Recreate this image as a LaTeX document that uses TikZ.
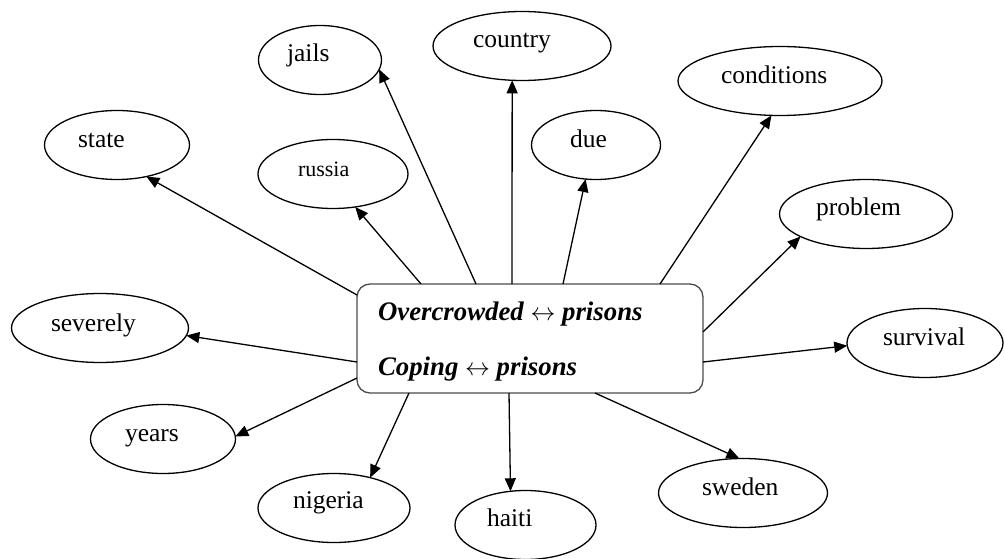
\documentclass[tikz,border=0pt]{standalone}
\usepackage{amsmath}
\usepackage{fontspec}
\setmainfont{Liberation Serif}
\usetikzlibrary{arrows.meta}
\usetikzlibrary{shapes.geometric}

\begin{document}
\begin{tikzpicture}
	[x=1pt,y=-1pt,line width=1.3pt,
	every node/.style={inner sep=0pt,outer sep=0pt},
	oval/.style={ellipse,draw,minimum height=69pt},
	word/.style={anchor=mid west,yshift=-6pt,font=\fontsize{25.5}{30}\selectfont},
	arr/.style={-{Triangle[length=13pt,width=11pt]}}]
	\useasboundingbox (0,0) rectangle (1004,559);
	% central box
	\node[draw=black!70,rounded corners=13pt,minimum width=346pt,minimum height=109pt] (box) at (530,338.5) {};
	\node[word,font=\fontsize{26.8}{30}\selectfont\bfseries\itshape] (over) at (378,312) {Overcrowded $\leftrightarrow$ prisons};
	\node[word,font=\fontsize{26.8}{30}\selectfont\bfseries\itshape] (coping) at (378,367) {Coping $\leftrightarrow$ prisons};
	
	\foreach \n/\cx/\cy/\w/\tx/\ty in
	{jails/320/60/123/287/53, state/117/145/145/78/139, country/522/46/178/473/39,
	 due/596/145/129/570/139, conditions/780/81/204/721/75, problem/866/214/173/816/207,
	 severely/100/328/177/51/323, survival/925/343/156/883/337, years/163/439/145/125/433,
	 nigeria/334/508/152/293/500, haiti/525.5/525/141/487/518, sweden/743/493/169/702/487}
	{
		\node[oval,minimum width=\w pt] (\n) at (\cx,\cy) {};
		\node[word] (\n-t) at (\tx,\ty) {\n};
	}
	\node[oval,minimum width=150pt] (russia) at (333,174) {};
	\node[word,font=\fontsize{22}{26}\selectfont] (russia-t) at (298,168) {russia};
	
	\draw[arr] ([yshift=-11pt]box.north west) -- (state.-47);
	\draw[arr] ([xshift=64pt]box.north west) -- (russia.-56);
	\draw[arr] ([xshift=119pt]box.north west) -- (jails.-9);
	\draw[arr] ([xshift=155pt]box.north west) -- (country.-106);
	\draw[arr] ([xshift=206pt]box.north west) -- (due.-107);
	\draw[arr] ([xshift=303pt]box.north west) -- (conditions.-104);
	\draw[arr] ([yshift=-48pt]box.north east) -- (problem.-161);
	\draw[arr] ([yshift=-78pt]box.north east) -- (survival.182);
	\draw[arr] ([xshift=238pt]box.south west) -- (sweden.96);
	\draw[arr] ([xshift=152pt]box.south west) -- (haiti.114);
	\draw[arr] ([xshift=52pt]box.south west) -- (nigeria.40);
	\draw[arr] ([yshift=-94pt]box.north west) -- (years.2);
	\draw[arr] ([yshift=-78pt]box.north west) -- (severely.-5);
\end{tikzpicture}
\end{document}
